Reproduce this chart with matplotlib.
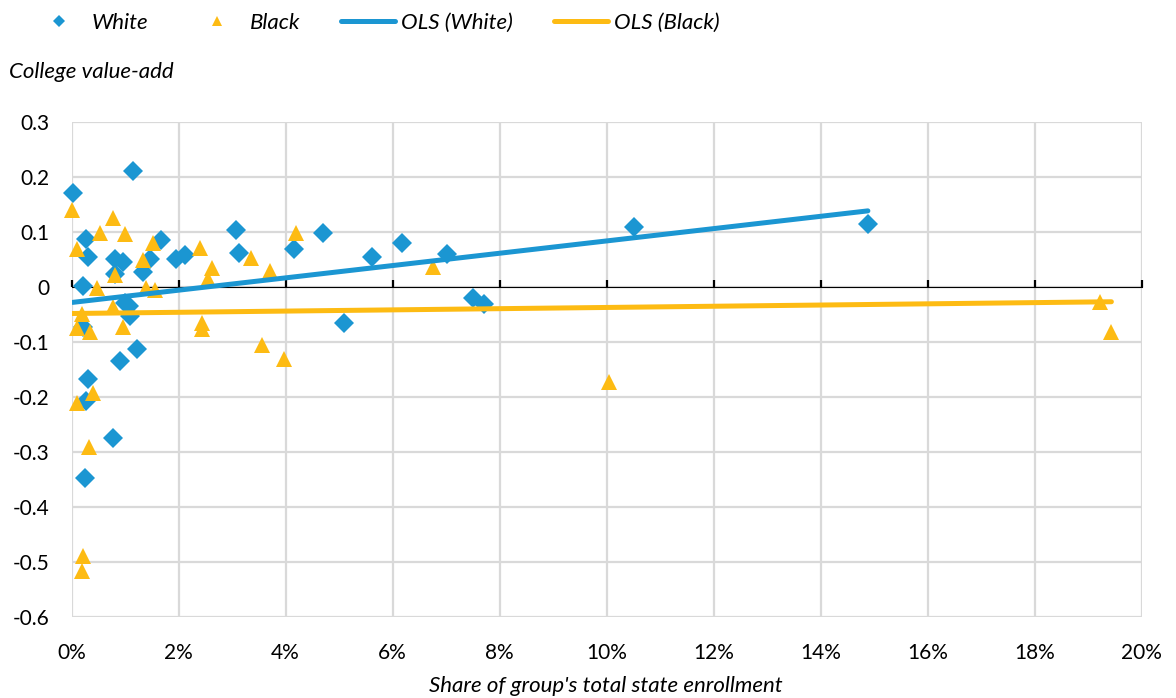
import numpy as np
import matplotlib
matplotlib.use('Agg')
import matplotlib.pyplot as plt
from matplotlib.lines import Line2D
from matplotlib.ticker import FuncFormatter, MultipleLocator, NullFormatter

plt.rcParams['font.family'] = ['Lato', 'DejaVu Sans']

# share of group's total state enrollment (%) vs. college value-add
white_x = [0.02, 1.15, 0.27, 0.31, 0.81, 0.97, 0.81, 1.34, 1.47, 1.68, 1.95, 2.12,
           0.22, 1.00, 1.08, 1.10, 0.21, 1.22, 0.90, 0.31, 0.28, 0.77, 0.26, 3.08,
           3.13, 4.15, 4.69, 5.62, 6.17, 7.02, 5.10, 7.50, 7.71, 10.51, 14.88]
white_y = [0.171, 0.211, 0.087, 0.055, 0.052, 0.046, 0.024, 0.028, 0.052, 0.085, 0.052, 0.058,
           0.002, -0.028, -0.035, -0.053, -0.072, -0.113, -0.135, -0.168, -0.207, -0.275, -0.347, 0.104,
           0.062, 0.070, 0.098, 0.055, 0.081, 0.061, -0.066, -0.019, -0.030, 0.110, 0.114]

black_x = [0.00, 0.10, 0.77, 0.53, 1.00, 1.53, 1.34, 0.81, 0.48, 1.39, 1.56, 2.40,
           2.62, 2.55, 3.36, 3.71, 4.20, 0.78, 0.19, 0.10, 0.35, 0.96, 2.43, 2.43,
           3.56, 3.97, 0.10, 0.40, 0.33, 0.21, 0.19, 6.76, 10.04, 19.22, 19.43]
black_y = [0.141, 0.070, 0.125, 0.098, 0.096, 0.081, 0.050, 0.022, -0.002, -0.002, -0.005, 0.071,
           0.035, 0.014, 0.053, 0.030, 0.098, -0.036, -0.048, -0.075, -0.081, -0.072, -0.066, -0.077,
           -0.106, -0.131, -0.210, -0.193, -0.290, -0.489, -0.516, 0.037, -0.172, -0.027, -0.081]

# fitted trend lines: (slope per pct point, intercept)
ols_white = (0.0112, -0.028)
ols_black = (0.0011, -0.048)

blue = '#1B96D2'
gold = '#FDBB13'

fig = plt.figure(figsize=(11.76, 6.98), dpi=100)
ax = fig.add_axes([0.0608, 0.116, 0.9102, 0.709])

ax.plot(white_x, white_y, 'D', color=blue, markersize=10.5, markeredgewidth=0,
        zorder=3, clip_on=False)
ax.plot(black_x, black_y, '^', color=gold, markersize=11.5, markeredgewidth=0,
        zorder=4, clip_on=False)

for xs, (m, b), c in [(white_x, ols_white, blue), (black_x, ols_black, gold)]:
    lx = np.array([min(xs), max(xs)])
    ax.plot(lx, m * lx + b, color=c, lw=3.6, solid_capstyle='round', zorder=5)

ax.set_xlim(0, 20)
ax.set_ylim(-0.6, 0.3)
ax.xaxis.set_major_locator(MultipleLocator(2))
ax.yaxis.set_major_locator(MultipleLocator(0.1))
ax.xaxis.set_major_formatter(FuncFormatter(lambda v, p: f'{v:.0f}%'))
ax.yaxis.set_major_formatter(FuncFormatter(lambda v, p: '0' if abs(v) < 1e-9 else f'{v:.1f}'))
ax.grid(True, color='#D9D9D9', lw=1.6)
ax.set_axisbelow(True)
for s in ax.spines.values():
    s.set_visible(False)
ax.tick_params(length=0, labelsize=15, colors='black')
ax.tick_params(axis='x', pad=19)
ax.tick_params(axis='y', pad=16)

# horizontal axis line through zero, with its tick marks
zero = ax.secondary_xaxis(0.6 / 0.9)
zero.set_zorder(1)
zero.spines['bottom'].set_linewidth(1.6)
zero.set_xticks(np.arange(0, 21, 2))
zero.xaxis.set_major_formatter(NullFormatter())
zero.tick_params(direction='out', length=5, width=1.6)

fig.text(0.008, 0.897, 'College value-add', fontsize=16, style='italic', va='center')
fig.text(0.515, 0.017, "Share of group's total state enrollment", fontsize=16,
         style='italic', ha='center', va='center')

handles = [
    Line2D([], [], ls='', marker='D', color=blue, markersize=6, markeredgewidth=0),
    Line2D([], [], ls='', marker='^', color=gold, markersize=7, markeredgewidth=0),
    Line2D([], [], color=blue, lw=3.6, solid_capstyle='round'),
    Line2D([], [], color=gold, lw=3.6, solid_capstyle='round'),
]
fig.legend(handles, ['White', 'Black', 'OLS (White)', 'OLS (Black)'], loc='upper left',
           bbox_to_anchor=(0.027, 0.982), ncol=4, frameon=False, handlelength=2.45,
           handletextpad=0.25, columnspacing=1.85, borderpad=0, borderaxespad=0,
           prop={'style': 'italic', 'size': 16})

fig.savefig('out.png', dpi=100)
